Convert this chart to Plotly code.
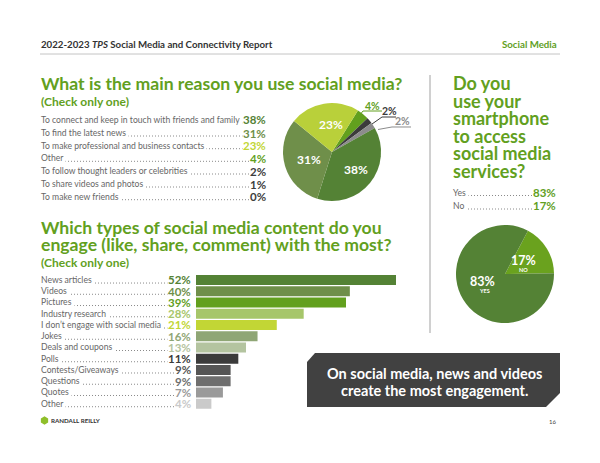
import plotly.graph_objects as go
import math

W, H = 600, 463
def px(x): return x / W
def py(y): return 1 - y / H

FONT = "Lato"
GREEN = "#62a01e"
LABEL_GREY = "#666666"

# ---------------- data ----------------
reason_labels = ["To connect and keep in touch with friends and family",
                 "To find the latest news",
                 "To make professional and business contacts",
                 "Other",
                 "To follow thought leaders or celebrities",
                 "To share videos and photos",
                 "To make new friends"]
reason_values = [38, 31, 23, 4, 2, 1, 0]
reason_colors = ["#548235", "#6f8f4a", "#c2d635", "#62a01e", "#3d3d3d", "#3d3d3d", "#3d3d3d"]

pie1_values = [4, 2, 2, 38, 31, 23]
pie1_colors = ["#62a01e", "#3b3b3b", "#8c8c8c", "#548235", "#6f8f4a", "#b9d03a"]

content_labels = ["News articles", "Videos", "Pictures", "Industry research",
                  "I don\u2019t engage with social media", "Jokes", "Deals and coupons",
                  "Polls", "Contests/Giveaways", "Questions", "Quotes", "Other"]
content_values = [52, 40, 39, 28, 21, 16, 13, 11, 9, 9, 7, 4]
content_colors = ["#548235", "#6f8f4a", "#62a01e", "#a6c66a", "#c2d635", "#8fa675",
                  "#b4c4a0", "#3b3b3b", "#555555", "#6e6e6e", "#9a9a9a", "#cacaca"]

phone_labels = ["Yes", "No"]
phone_values = [83, 17]
pie2_values = [17, 83]
pie2_colors = ["#6aa21e", "#548235"]

fig = go.Figure()

# ---------------- bars ----------------
fig.add_trace(go.Bar(
    x=content_values, y=content_labels, orientation="h",
    marker=dict(color=content_colors, line=dict(width=0)),
    hoverinfo="skip", showlegend=False))

n = len(content_labels)
row0, row_step = 280.0, 11.245
fig.update_layout(
    xaxis=dict(domain=[px(196), px(396)], range=[0, 52], visible=False, fixedrange=True),
    yaxis=dict(domain=[py(row0 + (n - 0.5) * row_step), py(row0 - 0.5 * row_step)],
               range=[n - 0.5, -0.5], type="category", visible=False, fixedrange=True),
    bargap=0.11,
)

# ---------------- pies ----------------
fig.add_trace(go.Pie(
    values=pie1_values, sort=False, direction="clockwise", rotation=32,
    marker=dict(colors=pie1_colors, line=dict(width=0)),
    textinfo="none", hoverinfo="skip", showlegend=False,
    domain=dict(x=[px(283), px(381)], y=[py(201), py(103)])))

fig.add_trace(go.Pie(
    values=pie2_values, sort=False, direction="clockwise", rotation=28,
    marker=dict(colors=pie2_colors, line=dict(width=0)),
    textinfo="none", hoverinfo="skip", showlegend=False,
    domain=dict(x=[px(456), px(554)], y=[py(323), py(225)])))

annotations = []
shapes = []

def text(x, y, s, size, color, xanchor="left", bold=False, bg=None, yanchor="middle",
         xref="paper", yref="paper", pad=0):
    d = dict(x=x, y=y, xref=xref, yref=yref, text=("<b>%s</b>" % s) if bold else s,
             showarrow=False, xanchor=xanchor, yanchor=yanchor,
             font=dict(family=FONT, size=size, color=color), borderpad=pad)
    if bg:
        d["bgcolor"] = bg
    annotations.append(d)

def val_width(s, size):
    w = 0
    for ch in s:
        w += 0.80 if ch == "%" else 0.58
    return w * size

VAL_SIZE = 11.5
LAB_SIZE = 8.6
DOT_LINE = dict(color="#8a8a8a", width=1, dash="1px,2px")

def dots(x0, x1, y):
    shapes.append(dict(type="line", xref="paper", yref="paper",
                       x0=px(x0), x1=px(x1), y0=py(y), y1=py(y), line=DOT_LINE))

# header
text(px(40), py(43.5), "<b>2022-2023 <i>TPS</i> Social Media and Connectivity Report</b>", 9.7, "#333333")
text(px(558), py(43.5), "Social Media", 9.7, GREEN, xanchor="right", bold=True)
shapes.append(dict(type="line", xref="paper", yref="paper", x0=px(40), x1=px(560),
                   y0=py(54), y1=py(54), line=dict(color="#c4c4c4", width=1)))

# section 1
text(px(40), py(83.5), "What is the main reason you use social media?", 17.6, GREEN, bold=True)
text(px(40), py(101.5), "(Check only one)", 12, GREEN, bold=True)
r_rows = [120, 133, 145.7, 158.3, 171, 184, 196.7]
for lab, val, col, yy in zip(reason_labels, reason_values, reason_colors, r_rows):
    s = "%d%%" % val
    dots(44, 267 - val_width(s, VAL_SIZE) - 2, yy + 3)
    text(px(40), py(yy), lab + "\u00a0", LAB_SIZE, LABEL_GREY, bg="white")
    text(px(267), py(yy), s, VAL_SIZE, col, xanchor="right", bold=True)

# pie1 labels
cx1, cy1, r1 = 332, 152, 49
cum = 0
tot = sum(pie1_values)
mids = []
for v in pie1_values:
    mids.append(32 + (cum + v / 2) / tot * 360)
    cum += v
for i in [3, 4, 5]:
    a = math.radians(mids[i])
    rr = 0.56 * r1
    text(px(cx1 + rr * math.sin(a) + 3), py(cy1 - rr * math.cos(a)), "%d%%" % pie1_values[i],
         12, "white", xanchor="center", bold=True)
# small slice callouts
text(px(372), py(106), "%d%%" % pie1_values[0], 10.5, pie1_colors[0], xanchor="center", bold=True)
text(px(389), py(111), "%d%%" % pie1_values[1], 10.5, "#3b3b3b", xanchor="center", bold=True)
text(px(402), py(120.5), "%d%%" % pie1_values[2], 10.5, "#8c8c8c", xanchor="center", bold=True)
for pts_, c in [([(359, 116), (363, 111), (382, 111)], pie1_colors[0]),
                ([(372, 124), (382, 117), (396, 117)], "#3b3b3b"),
                ([(378, 129.5), (392, 127), (411, 127)], "#8c8c8c")]:
    p = "M " + " L ".join("%f,%f" % (px(a), py(b)) for a, b in pts_)
    shapes.append(dict(type="path", xref="paper", yref="paper", path=p, line=dict(color=c, width=1)))

# section 2
text(px(40), py(227), "Which types of social media content do you", 17.6, GREEN, bold=True)
text(px(40), py(244.5), "engage (like, share, comment) with the most?", 17.6, GREEN, bold=True)
text(px(40), py(262.5), "(Check only one)", 12, GREEN, bold=True)
for i, (lab, val, col) in enumerate(zip(content_labels, content_values, content_colors)):
    s = "%d%%" % val
    shapes.append(dict(type="line", xref="paper", yref="y", x0=px(44),
                       x1=px(192 - val_width(s, VAL_SIZE) - 2),
                       y0=i + 0.27, y1=i + 0.27, line=DOT_LINE))
    text(px(40), i, lab + "\u00a0", LAB_SIZE, LABEL_GREY, bg="white", yref="y")
    text(px(192), i, s, VAL_SIZE, col, xanchor="right", bold=True, yref="y")

# right panel
shapes.append(dict(type="line", xref="paper", yref="paper", x0=px(430), x1=px(430),
                   y0=py(75), y1=py(333), line=dict(color="#d0d0d0", width=2)))
for s, yy in zip(["Do you", "use your", "smartphone", "to access", "social media", "services?"],
                 [83, 100.5, 118, 135.5, 153, 170.5]):
    text(px(452), py(yy), s, 18, GREEN, bold=True)
for lab, val, yy in zip(phone_labels, phone_values, [192.5, 206]):
    s = "%d%%" % val
    dots(456, 557 - val_width(s, VAL_SIZE) - 2, yy + 3)
    text(px(452), py(yy), lab + "\u00a0", LAB_SIZE, LABEL_GREY, bg="white")
    text(px(557), py(yy), s, VAL_SIZE, GREEN, xanchor="right", bold=True)

text(px(523), py(260.5), "%d%%" % pie2_values[0], 12.5, "white", xanchor="center", bold=True)
text(px(523), py(269.5), "NO", 5.5, "white", xanchor="center", bold=True)
text(px(482), py(281.5), "%d%%" % pie2_values[1], 12.5, "white", xanchor="center", bold=True)
text(px(484), py(291), "YES", 5.5, "white", xanchor="center", bold=True)

# callout box
pts = [(315, 353), (560, 353), (560, 393), (546, 407), (307, 407), (307, 362)]
path = "M " + " L ".join("%f,%f" % (px(a), py(b)) for a, b in pts) + " Z"
shapes.append(dict(type="path", xref="paper", yref="paper", path=path,
                   fillcolor="#414141", line=dict(width=0), layer="above"))
text(px(434), py(373), "On social media, news and videos", 14.5, "white", xanchor="center", bold=True)
text(px(434), py(390), "create the most engagement.", 14.5, "white", xanchor="center", bold=True)

# footer
hx, hy, hr = 44.5, 420.5, 4.2
hex_path = "M " + " L ".join("%f,%f" % (px(hx + hr * math.cos(math.radians(60 * k + 30))),
                                         py(hy + hr * math.sin(math.radians(60 * k + 30)))) for k in range(6)) + " Z"
shapes.append(dict(type="path", xref="paper", yref="paper", path=hex_path,
                   fillcolor="#8fbf2a", line=dict(width=0)))
text(px(50), py(420.5), "RANDALL REILLY", 6.2, "#333333", bold=True)
text(px(557), py(421), "16", 6, "#444444", xanchor="right")

fig.update_layout(
    width=W, height=H, margin=dict(l=0, r=0, t=0, b=0),
    paper_bgcolor="white", plot_bgcolor="white",
    annotations=annotations, shapes=shapes,
    font=dict(family=FONT), showlegend=False,
)
fig.write_html("out.html", config={"displayModeBar": False})
